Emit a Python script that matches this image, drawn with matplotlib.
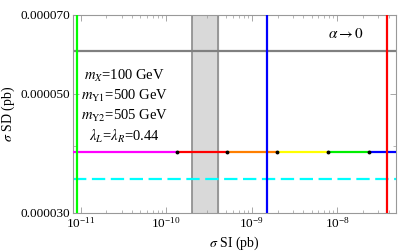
import numpy as np
import matplotlib
matplotlib.use("Agg")
import matplotlib.pyplot as plt
from matplotlib.ticker import LogLocator, NullFormatter, FixedLocator, FixedFormatter

# vertical limits in sigma SI (pb)
si_green = 9.0e-12
si_blue = 1.5e-9
si_red = 3.8e-8
si_band = [2.0e-10, 4.0e-10]

# horizontal levels in sigma SD (pb)
sd_alpha0 = 6.0e-5
sd_curve = 3.9e-5
sd_cyan = 3.47e-5

# coloured segments along the curve (edges in sigma SI)
seg_edges = [8.2e-12, 1.33e-10, 5.1e-10, 1.96e-9, 7.7e-9, 2.33e-8, 4.8e-8]
seg_colors = ["#ff00ff", "#ff0000", "#ff7f00", "#ffff00", "#00ee00", "#0000ff"]

ytick_vals = [3e-5, 5e-5, 7e-5]
ytick_labels = ["0.000030", "0.000050", "0.000070"]

params = [r"$m_X$=100 GeV", r"$m_{\mathrm{Y1}}$=500 GeV",
          r"$m_{\mathrm{Y2}}$=505 GeV", r"$\lambda_L$=$\lambda_R$=0.44"]


def main():
    plt.rcParams["font.family"] = ["Liberation Serif", "DejaVu Serif"]
    plt.rcParams["mathtext.fontset"] = "stix"

    fig = plt.figure(figsize=(3.99, 2.52), dpi=100)
    ax = fig.add_axes([0.1837, 0.1548, 0.8080, 0.7857])
    ax.set_xscale("log")
    ax.set_yscale("log")
    ax.set_xlim(seg_edges[0], seg_edges[-1])
    ax.set_ylim(3e-5, 7e-5)

    ax.axvspan(si_band[0], si_band[1], color="#d9d9d9", zorder=1)
    for v in si_band:
        ax.axvline(v, color="#8c8c8c", lw=1.2, zorder=2)

    ax.axhline(sd_alpha0, color="#808080", lw=1.6, zorder=2)
    ax.axhline(sd_cyan, color="#00ffff", lw=1.6, dashes=(6, 2.5), zorder=2)

    for i in range(len(seg_colors)):
        ax.plot(seg_edges[i:i + 2], [sd_curve, sd_curve], color=seg_colors[i],
                lw=1.6, zorder=3, solid_capstyle="butt")
    ax.plot(seg_edges[1:-1], [sd_curve] * (len(seg_edges) - 2), "o",
            color="black", ms=1.8, zorder=4)

    ax.axvline(si_green, color="#00ff00", lw=1.6, zorder=5)
    ax.axvline(si_blue, color="#0000ff", lw=1.6, zorder=5)
    ax.axvline(si_red, color="#ff0000", lw=1.6, zorder=5)

    ax.text(0.845, 0.905, r"$\alpha \rightarrow 0$", transform=ax.transAxes,
            ha="center", va="center", fontsize=11)
    for i, s in enumerate(params):
        ax.text(0.158, 0.69 - i * 0.101, s, transform=ax.transAxes,
                ha="center", va="center", fontsize=10.5)

    ax.xaxis.set_major_locator(LogLocator(base=10))
    ax.xaxis.set_minor_locator(LogLocator(base=10, subs=np.arange(2, 10)))
    ax.xaxis.set_minor_formatter(NullFormatter())
    ax.yaxis.set_major_locator(FixedLocator(ytick_vals))
    ax.yaxis.set_major_formatter(FixedFormatter(ytick_labels))
    ax.yaxis.set_minor_locator(FixedLocator([4e-5, 6e-5]))
    ax.yaxis.set_minor_formatter(NullFormatter())

    ax.tick_params(which="both", direction="in", top=True, right=True,
                   color="#999999", labelsize=9.5, pad=2)
    ax.tick_params(which="major", length=4, width=0.6)
    ax.tick_params(which="minor", length=2, width=0.5)
    for sp in ax.spines.values():
        sp.set_color("#999999")
        sp.set_linewidth(0.8)

    ax.set_xlabel(r"$\sigma$ SI (pb)", fontsize=10, labelpad=3)
    ax.set_ylabel(r"$\sigma$ SD (pb)", fontsize=10, labelpad=3)

    fig.savefig("out.png", dpi=100)


if __name__ == "__main__":
    main()
